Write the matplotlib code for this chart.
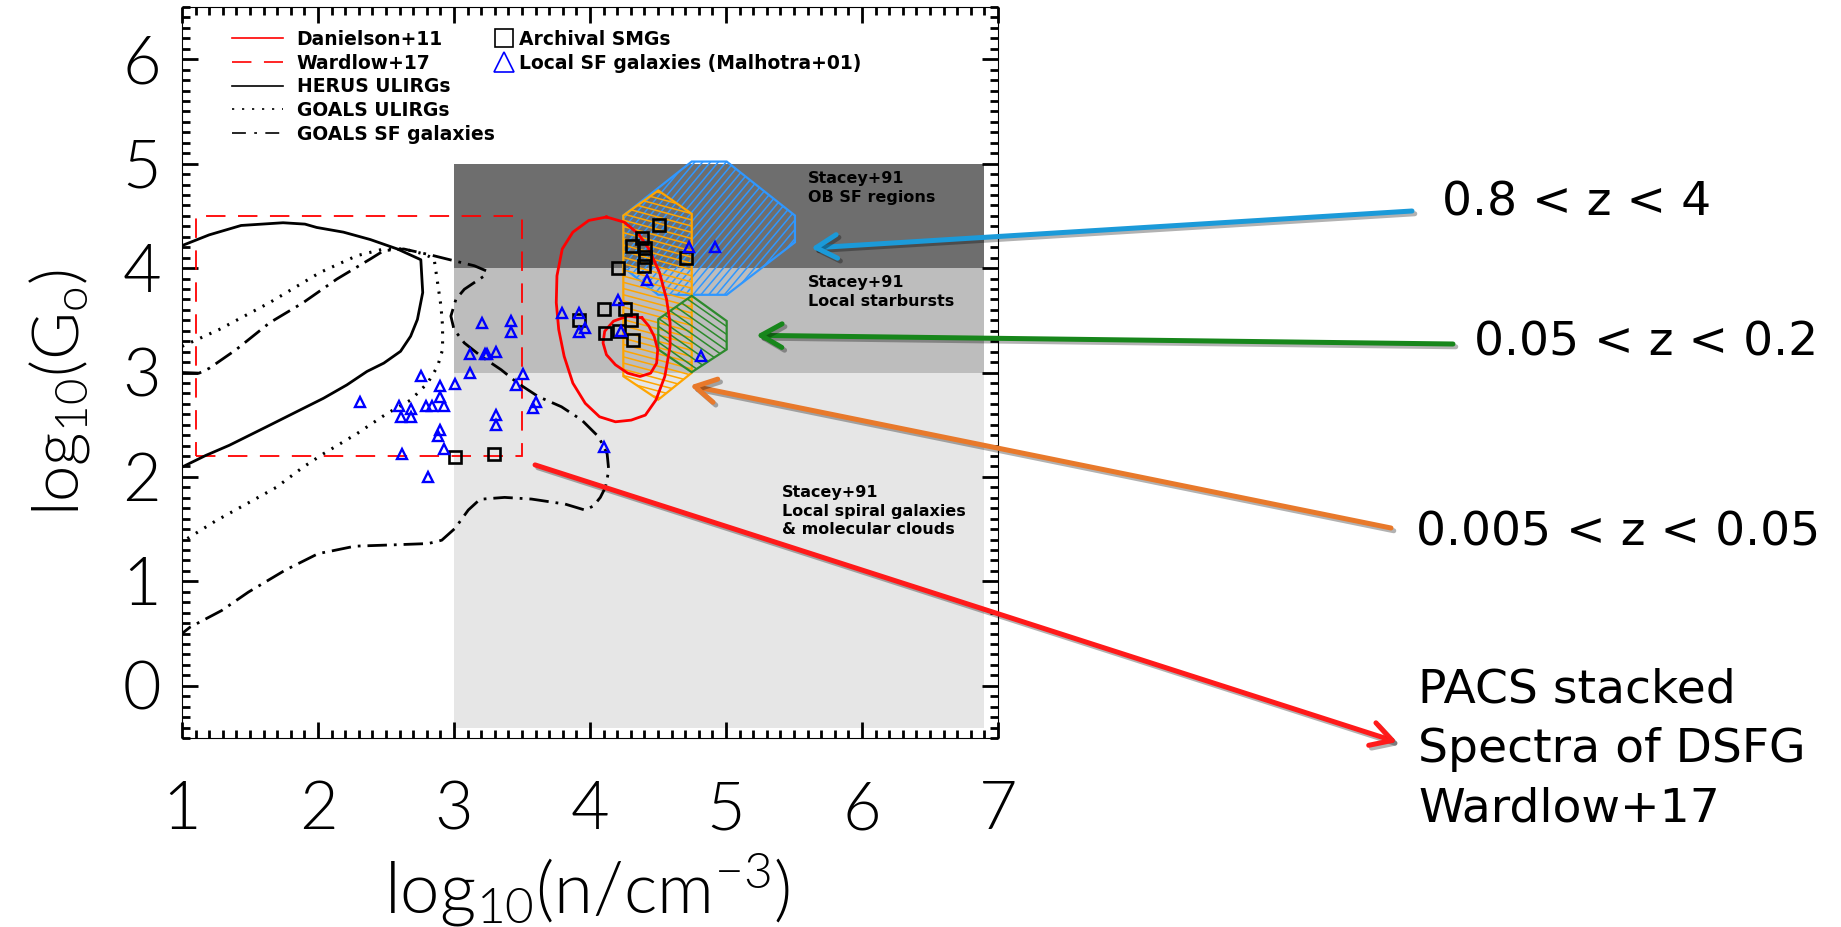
import numpy as np
import matplotlib
matplotlib.use("Agg")
import matplotlib.pyplot as plt
import matplotlib.patheffects as pe
from matplotlib.patches import Polygon, Rectangle
from matplotlib.collections import LineCollection
from matplotlib.lines import Line2D
from matplotlib.ticker import MultipleLocator

plt.rcParams['font.family'] = ['Lato', 'DejaVu Sans']
plt.rcParams['lines.scale_dashes'] = False
plt.rcParams['mathtext.default'] = 'regular'

# ---------------------------------------------------------------- data
# Stacey+91 G0 regimes, shaded over 3 < log n < 6.9
band_n = (3.0, 6.9)
band_lo = [-0.4, 3.0, 4.0]
band_hi = [3.0, 4.0, 5.0]
band_colors = ['#e6e6e6', '#bdbdbd', '#6e6e6e']
band_text = ['Stacey+91\nLocal spiral galaxies\n& molecular clouds',
             'Stacey+91\nLocal starbursts',
             'Stacey+91\nOB SF regions']
band_text_n = [5.41, 5.60, 5.60]
band_text_g0 = [1.92, 3.93, 4.93]

# Wardlow+17 stacked PACS spectra: allowed region
wardlow_n = [1.1, 3.5]
wardlow_g0 = [2.2, 4.5]

# Danielson+11 contours
dan_outer_n = [4.121, 3.991, 3.874, 3.796, 3.757, 3.752, 3.770, 3.810, 3.874,
               3.965, 4.070, 4.187, 4.303, 4.407, 4.485, 4.550, 4.589, 4.589,
               4.563, 4.511, 4.433, 4.356, 4.251, 4.121]
dan_outer_g0 = [4.489, 4.456, 4.344, 4.183, 3.926, 3.669, 3.412, 3.155, 2.898,
                2.705, 2.576, 2.528, 2.544, 2.592, 2.737, 2.962, 3.251, 3.476,
                3.701, 3.958, 4.183, 4.328, 4.440, 4.489]
dan_inner_n = [4.381, 4.277, 4.173, 4.108, 4.096, 4.121, 4.187, 4.277, 4.368,
               4.446, 4.490, 4.498, 4.472, 4.433, 4.381]
dan_inner_g0 = [3.524, 3.540, 3.492, 3.395, 3.283, 3.170, 3.074, 2.994, 2.962,
                2.994, 3.090, 3.219, 3.347, 3.444, 3.524]

# HERUS ULIRGs contour
herus_n = [1.00, 1.20, 1.435, 1.743, 1.904, 1.99, 2.187, 2.385, 2.583, 2.756,
           2.77, 2.731, 2.681, 2.607, 2.484, 2.36, 2.212, 2.04, 1.842, 1.62,
           1.348, 1.175, 1.00]
herus_g0 = [4.215, 4.318, 4.408, 4.434, 4.421, 4.389, 4.344, 4.273, 4.183, 4.08,
            3.766, 3.508, 3.347, 3.203, 3.09, 3.01, 2.881, 2.753, 2.624, 2.479,
            2.303, 2.206, 2.094]

# GOALS ULIRGs contour
goals_u_n = [1.00, 1.274, 1.644, 2.015, 2.287, 2.484, 2.63, 2.78, 2.854, 2.879,
             2.904, 2.916, 2.916, 2.879, 2.805, 2.681, 2.508, 2.287, 2.04, 1.891,
             1.693, 1.472, 1.249, 1.052, 1.00]
goals_u_g0 = [3.25, 3.412, 3.669, 3.958, 4.119, 4.183, 4.183, 4.135, 4.087, 3.862,
              3.637, 3.444, 3.219, 3.058, 2.897, 2.736, 2.608, 2.415, 2.222, 2.094,
              1.90, 1.74, 1.58, 1.42, 1.38]

# GOALS SF galaxies contour
goals_sf_n = [1.00, 1.126, 1.20, 1.398, 1.644, 1.891, 2.138, 2.385, 2.484, 2.63,
              2.83, 3.00, 3.15, 3.236, 3.224, 3.15, 3.076, 3.014, 2.977, 3.00,
              3.076, 3.20, 3.347, 3.47, 3.62, 3.79, 3.94, 4.064, 4.126, 4.138,
              4.113, 4.076, 4.027, 3.965, 3.817, 3.57, 3.372, 3.191, 3.105,
              3.007, 2.91, 2.811, 2.542, 2.272, 2.10, 2.002, 1.757, 1.488,
              1.292, 1.059, 1.00]
goals_sf_g0 = [3.00, 2.994, 3.04, 3.219, 3.476, 3.669, 3.894, 4.087, 4.167, 4.183,
               4.125, 4.07, 4.022, 3.974, 3.926, 3.862, 3.797, 3.701, 3.54, 3.412,
               3.283, 3.155, 3.026, 2.897, 2.769, 2.672, 2.544, 2.383, 2.222, 2.062,
               1.90, 1.804, 1.724, 1.682, 1.74, 1.788, 1.804, 1.786, 1.683,
               1.507, 1.394, 1.362, 1.349, 1.337, 1.291, 1.266, 1.106, 0.897,
               0.721, 0.561, 0.50]

# Archival SMGs
smg_n = [4.51, 4.385, 4.31, 4.405, 4.405, 4.40, 4.207, 4.705, 4.10, 4.26,
         4.30, 3.92, 4.113, 4.21, 4.315, 3.007, 3.294]
smg_g0 = [4.415, 4.29, 4.21, 4.19, 4.105, 4.02, 4.00, 4.10, 3.605, 3.605,
          3.50, 3.50, 3.38, 3.396, 3.31, 2.19, 2.216]

# Local SF galaxies (Malhotra+01)
malhotra_n = [2.311, 2.595, 2.681, 2.612, 2.686, 2.756, 2.899, 2.899, 2.793,
              2.835, 2.923, 3.007, 3.116, 3.116, 3.205, 3.225, 3.245, 3.311,
              3.417, 3.417, 3.511, 3.459, 3.60, 3.583, 3.311, 3.311, 2.899,
              2.884, 2.923, 2.615, 2.81, 4.101, 3.793, 3.921, 3.921, 3.96,
              4.207, 4.225, 4.422, 4.727, 4.922, 4.815]
malhotra_g0 = [2.72, 2.679, 2.647, 2.576, 2.576, 2.971, 2.872, 2.763, 2.679,
               2.679, 2.679, 2.891, 2.994, 3.18, 3.47, 3.18, 3.18, 3.20,
               3.492, 3.386, 2.987, 2.881, 2.72, 2.657, 2.592, 2.496, 2.454,
               2.39, 2.271, 2.222, 1.997, 2.287, 3.573, 3.573, 3.386, 3.428,
               3.695, 3.40, 3.888, 4.205, 4.205, 3.161]

# Redshift-bin regions of the stacked spectra
hi_z_n = [4.748, 5.005, 5.507, 5.507, 5.005, 4.502, 4.245, 4.245]
hi_z_g0 = [5.02, 5.02, 4.503, 4.247, 3.744, 3.744, 4.006, 4.503]
low_z_n = [4.502, 4.748, 4.748, 4.502, 4.245, 4.245]
low_z_g0 = [4.743, 4.519, 2.997, 2.74, 2.964, 4.503]
mid_z_n = [4.748, 5.005, 5.005, 4.748, 4.502, 4.502]
mid_z_g0 = [3.734, 3.493, 3.221, 3.003, 3.221, 3.51]

zbin_labels = ['0.8 < z < 4', '0.05 < z < 0.2', '0.005 < z < 0.05']
zbin_colors = ['#1b9ad9', '#17861b', '#e8792b']
zbin_tip_n = [5.625, 5.221, 4.735]
zbin_tip_g0 = [4.192, 3.356, 2.875]
pacs_label = 'PACS stacked\nSpectra of DSFG\nWardlow+17'

# ---------------------------------------------------------------- figure
W, H = 1841, 927
fig = plt.figure(figsize=(W / 100, H / 100), dpi=100)
ax = fig.add_axes([182 / W, 1 - 738 / H, 816 / W, 731 / H])
ax.set_xlim(1, 7)
ax.set_ylim(-0.5, 6.5)


def fig_px(x, y):
    return (x / W, 1 - y / H)


bold_small = dict(family=['DejaVu Sans'], weight='bold')

# shaded bands
for lo, hi, c in zip(band_lo, band_hi, band_colors):
    ax.add_patch(Rectangle((band_n[0], lo), band_n[1] - band_n[0], hi - lo,
                           facecolor=c, edgecolor='none', zorder=0.5))
for s, x, y in zip(band_text, band_text_n, band_text_g0):
    ax.text(x, y, s, ha='left', va='top', fontsize=11.5, linespacing=1.3,
            zorder=6, **bold_small)


def hatched_region(xs, ys, color, angle, spacing, z):
    verts = np.column_stack([xs, ys])
    edge = Polygon(verts, closed=True, facecolor='none', edgecolor=color,
                   lw=1.6, zorder=z + 0.1)
    ax.add_patch(edge)
    disp = ax.transData.transform(verts)
    c = disp.mean(axis=0)
    r = np.hypot(*(disp - c).T).max() + spacing
    th = np.deg2rad(angle)
    d = np.array([np.cos(th), np.sin(th)])
    nrm = np.array([-np.sin(th), np.cos(th)])
    inv = ax.transData.inverted()
    segs = [inv.transform([c + o * nrm - r * d, c + o * nrm + r * d])
            for o in np.arange(-r, r + spacing, spacing)]
    lc = LineCollection(segs, colors=color, linewidths=1.1, zorder=z)
    lc.set_clip_path(edge)
    ax.add_collection(lc)


hatched_region(hi_z_n, hi_z_g0, '#2f97ff', 50, 6.0, 2.0)
hatched_region(low_z_n, low_z_g0, '#ffa500', -15, 6.0, 2.2)
hatched_region(mid_z_n, mid_z_g0, '#2d8a2d', -35, 6.5, 2.4)

# Wardlow+17 box
ax.add_patch(Rectangle((wardlow_n[0], wardlow_g0[0]), wardlow_n[1] - wardlow_n[0],
                       wardlow_g0[1] - wardlow_g0[0], fill=False, edgecolor='red',
                       lw=1.3, linestyle=(0, (14, 9)), zorder=3))

dotted = (0, (1.6, 5.6))
dashdot = (0, (14, 5, 2, 5))
ax.plot(herus_n, herus_g0, color='k', lw=2.0, zorder=3)
ax.plot(goals_u_n, goals_u_g0, color='k', lw=2.2, linestyle=dotted, zorder=3)
ax.plot(goals_sf_n, goals_sf_g0, color='k', lw=2.0, linestyle=dashdot, zorder=3)
ax.plot(dan_outer_n, dan_outer_g0, color='red', lw=2.0, zorder=3.5)
ax.plot(dan_inner_n, dan_inner_g0, color='red', lw=2.0, zorder=3.5)

ax.plot(smg_n, smg_g0, ls='none', marker='s', ms=8, mfc='none', mec='k',
        mew=1.9, zorder=5)
ax.plot(malhotra_n, malhotra_g0, ls='none', marker='^', ms=7.5, mfc='none',
        mec='#0000ff', mew=1.7, zorder=5)

# legends
leg_font = dict(family=['DejaVu Sans'], weight='bold', size=13.5)
line_handles = [
    Line2D([], [], color='red', lw=1.2),
    Line2D([], [], color='red', lw=1.2, linestyle=(0, (14, 9))),
    Line2D([], [], color='k', lw=1.2),
    Line2D([], [], color='k', lw=1.2, linestyle=dotted),
    Line2D([], [], color='k', lw=1.2, linestyle=(0, (10, 6, 2, 6))),
]
leg1 = ax.legend(line_handles, ['Danielson+11', 'Wardlow+17', 'HERUS ULIRGs',
                                'GOALS ULIRGs', 'GOALS SF galaxies'],
                 loc='upper left', bbox_to_anchor=(0.0613, 0.9686),
                 frameon=False, borderpad=0, borderaxespad=0, handlelength=2.7,
                 handletextpad=0.75, labelspacing=0.25, prop=leg_font)
ax.add_artist(leg1)
marker_handles = [
    Line2D([], [], ls='none', marker='s', ms=13, mfc='none', mec='k', mew=1.2),
    Line2D([], [], ls='none', marker='^', ms=14, mfc='none', mec='#0000ff', mew=1.2),
]
ax.legend(marker_handles, ['Archival SMGs', 'Local SF galaxies (Malhotra+01)'],
          loc='upper left', bbox_to_anchor=(0.3827, 0.9686), frameon=False,
          borderpad=0, borderaxespad=0, handlelength=1.07, handletextpad=0.27,
          labelspacing=0.25, numpoints=1, prop=leg_font)

# axes styling
ax.xaxis.set_major_locator(MultipleLocator(1))
ax.xaxis.set_minor_locator(MultipleLocator(0.1))
ax.yaxis.set_major_locator(MultipleLocator(1))
ax.yaxis.set_minor_locator(MultipleLocator(0.1))
ax.tick_params(which='both', direction='in', top=True, right=True, width=2.0,
               labelsize=48)
ax.tick_params(which='major', length=11.5)
ax.tick_params(which='minor', length=5.8)
ax.tick_params(axis='x', pad=31)
ax.tick_params(axis='y', pad=15)
for lbl in ax.get_xticklabels() + ax.get_yticklabels():
    lbl.set_fontweight(300)

ax.set_xlabel('log$_{10}$(n/cm$^{-3}$)', fontsize=51, fontweight=300)
ax.xaxis.set_label_coords(0.497, -0.156)
ax.set_ylabel('log$_{10}$(G$_{o}$)', fontsize=47, fontweight=300)
ax.yaxis.set_label_coords(-0.1507, 0.472)
ax.yaxis.label.set_va('center')

# redshift-bin call-outs
shadow = [pe.SimpleLineShadow(offset=(2, -2), shadow_color='k', alpha=0.3), pe.Normal()]
arrow_style = dict(arrowstyle='->, head_length=15, head_width=8.5', lw=3.6,
                   shrinkA=0, shrinkB=0, mutation_scale=1, path_effects=shadow)
tails = [(1412, 211), (1453, 344), (1391, 528)]
label_pos = [(1442, 215), (1474, 356), (1416, 546)]
for lab, col, tn, tg, tail, lp in zip(zbin_labels, zbin_colors, zbin_tip_n,
                                      zbin_tip_g0, tails, label_pos):
    ax.annotate('', xy=(tn, tg), xycoords='data', xytext=fig_px(*tail),
                textcoords='figure fraction', annotation_clip=False,
                arrowprops=dict(color=col, **arrow_style))
    fig.text(*fig_px(*lp), lab, ha='left', va='baseline', fontsize=34,
             family='DejaVu Sans')

ax.annotate('', xy=fig_px(1397, 742), xycoords='figure fraction',
            xytext=(3.596, 2.115), textcoords='data', annotation_clip=False,
            arrowprops=dict(color='#ff1a1a', **arrow_style))
fig.text(*fig_px(1418, 822), pacs_label, ha='left', va='baseline', fontsize=34,
         family='DejaVu Sans', linespacing=1.42)

fig.savefig('out.png', dpi=100)
